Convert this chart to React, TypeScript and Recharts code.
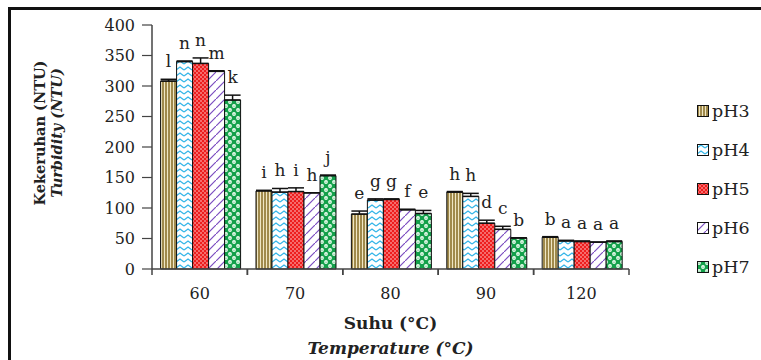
import { BarChart, Bar, XAxis, YAxis, Legend, LabelList, ErrorBar } from "recharts";

const temps = ["60", "70", "80", "90", "120"];
const yTicks = [0, 50, 100, 150, 200, 250, 300, 350, 400];

const pH3 = [308, 128, 90, 126, 52];
const pH4 = [340, 126, 113, 119, 46];
const pH5 = [337, 127, 114, 75, 45];
const pH6 = [324, 125, 97, 65, 44];
const pH7 = [277, 153, 91, 51, 45];

const pH3Err = [3, 1, 5, 1, 1];
const pH4Err = [1, 6, 2, 5, 1];
const pH5Err = [9, 6, 1, 5, 1];
const pH6Err = [1, 0, 1, 5, 0];
const pH7Err = [8, 1, 5, 0, 1];

const pH3Sig = ["l", "i", "e", "h", "b"];
const pH4Sig = ["n", "h", "g", "h", "a"];
const pH5Sig = ["n", "i", "g", "d", "a"];
const pH6Sig = ["m", "h", "f", "c", "a"];
const pH7Sig = ["k", "j", "e", "b", "a"];

const series = [
  { key: "pH3", values: pH3, errs: pH3Err, sig: pH3Sig, fill: "url(#pat3)" },
  { key: "pH4", values: pH4, errs: pH4Err, sig: pH4Sig, fill: "url(#pat4)" },
  { key: "pH5", values: pH5, errs: pH5Err, sig: pH5Sig, fill: "url(#pat5)" },
  { key: "pH6", values: pH6, errs: pH6Err, sig: pH6Sig, fill: "url(#pat6)" },
  { key: "pH7", values: pH7, errs: pH7Err, sig: pH7Sig, fill: "url(#pat7)" },
];

const data = temps.map((t, i) => {
  const row: any = { temp: t };
  series.forEach((s) => {
    row[s.key] = s.values[i];
    row[s.key + "Err"] = [0, s.errs[i]];
  });
  return row;
});

const FONT = "'DejaVu Serif', 'Liberation Serif', serif";
const INK = "#222";

const sigLabel = (letters: string[], errs: number[]) => (props: any) => {
  const { x, y, width, height, value, index } = props;
  const px = value ? height / value : 0;
  const top = y - errs[index] * px;
  return (
    <text x={x + width / 2} y={top - 12} textAnchor="middle" fontFamily={FONT} fontSize={17} fill={INK}>
      {letters[index]}
    </text>
  );
};

const TempTick = (props: any) => {
  const { x, y, payload, width } = props;
  const half = width / temps.length / 2;
  return (
    <g>
      <line x1={x - half} y1={y} x2={x - half} y2={y + 6} stroke="#444" strokeWidth={1.5} />
      <line x1={x + half} y1={y} x2={x + half} y2={y + 6} stroke="#444" strokeWidth={1.5} />
      <text x={x} y={y + 30} textAnchor="middle" fontFamily={FONT} fontSize={16} fill={INK}>
        {payload.value}
      </text>
    </g>
  );
};

const XTitle = (props: any) => {
  const { viewBox } = props;
  const cx = viewBox.x + viewBox.width / 2;
  return (
    <g fontFamily={FONT} fontSize={17} fontWeight="bold" fill={INK}>
      <text x={cx} y={viewBox.y + 60} textAnchor="middle">Suhu (°C)</text>
      <text x={cx} y={viewBox.y + 85} textAnchor="middle" fontStyle="italic">Temperature (°C)</text>
    </g>
  );
};

const YTitle = (props: any) => {
  const { viewBox } = props;
  const cy = viewBox.y + viewBox.height / 2 - 14;
  return (
    <g fontFamily={FONT} fontSize={14.5} fontWeight="bold" fill={INK}>
      <text x={45} y={cy} textAnchor="middle" transform={`rotate(-90 45 ${cy})`}>Kekeruhan (NTU)</text>
      <text x={62} y={cy} textAnchor="middle" fontStyle="italic" transform={`rotate(-90 62 ${cy})`}>Turbidity (NTU)</text>
    </g>
  );
};

const LegendBox = () => (
  <div style={{ fontFamily: FONT, fontSize: 17.5, color: INK }}>
    {series.map((s) => (
      <div key={s.key} style={{ display: "flex", alignItems: "center", height: 39 }}>
        <svg width={12} height={12} style={{ marginRight: 3 }}>
          <rect x={0.5} y={0.5} width={11} height={11} fill={s.fill} stroke="#111" strokeWidth={1} />
        </svg>
        <span>{s.key}</span>
      </div>
    ))}
  </div>
);

export default function App() {
  return (
    <div style={{ position: "absolute", left: 0, top: 0, width: 761, height: 360, background: "#fff", overflow: "hidden" }}>
      <div
        style={{
          position: "absolute",
          left: 8,
          top: 7,
          width: 800,
          height: 400,
          borderLeft: "3px solid #111",
          borderTop: "3px solid #111",
        }}
      />
      <BarChart
        width={761}
        height={360}
        data={data}
        margin={{ top: 25, right: 132, bottom: 61, left: 92 }}
        barCategoryGap="9%"
        barGap={0}
        style={{ position: "absolute", left: 0, top: 0 }}
      >
        <defs>
          <pattern id="pat3" width={3} height={4} patternUnits="userSpaceOnUse">
            <rect width={3} height={4} fill="#a08a4c" />
            <rect x={2} width={1} height={4} fill="#efe6c4" />
          </pattern>
          <pattern id="pat4" width={8} height={6} patternUnits="userSpaceOnUse">
            <rect width={8} height={6} fill="#fff" />
            <polyline points="0,4 4,1 8,4" fill="none" stroke="#33b5e8" strokeWidth={1.3} />
          </pattern>
          <pattern id="pat5" width={4} height={4} patternUnits="userSpaceOnUse">
            <rect width={4} height={4} fill="#ee1d1d" />
            <circle cx={1} cy={1} r={0.8} fill="#ffd0d0" />
            <circle cx={3} cy={3} r={0.8} fill="#ffd0d0" />
          </pattern>
          <pattern id="pat6" width={9} height={9} patternUnits="userSpaceOnUse">
            <rect width={9} height={9} fill="#fff" />
            <line x1={0} y1={9} x2={9} y2={0} stroke="#7b4cc0" strokeWidth={1.2} />
          </pattern>
          <pattern id="pat7" width={8} height={8} patternUnits="userSpaceOnUse">
            <rect width={8} height={8} fill="#13a04a" />
            <circle cx={2} cy={2} r={1.9} fill="#f2fff4" />
            <circle cx={6} cy={6} r={1.9} fill="#f2fff4" />
            <rect x={1.2} y={1.8} width={1.6} height={0.6} fill="#13a04a" />
            <rect x={5.2} y={5.8} width={1.6} height={0.6} fill="#13a04a" />
          </pattern>
        </defs>
        <XAxis
          dataKey="temp"
          tickLine={false}
          tickSize={0}
          tickMargin={0}
          tick={<TempTick />}
          axisLine={{ stroke: "#444", strokeWidth: 1.5 }}
          interval={0}
          label={<XTitle />}
        />
        <YAxis
          domain={[0, 400]}
          ticks={yTicks}
          width={60}
          tickSize={10}
          tickMargin={7}
          tickLine={{ stroke: "#444", strokeWidth: 1.2 }}
          axisLine={{ stroke: "#444", strokeWidth: 1.5 }}
          tick={{ fontFamily: FONT, fontSize: 16, fill: INK }}
          label={<YTitle />}
        />
        <Legend
          layout="vertical"
          align="center"
          verticalAlign="middle"
          content={<LegendBox />}
          wrapperStyle={{ position: "absolute", left: 697, top: 91, width: 70 }}
        />
        {series.map((s) => (
          <Bar key={s.key} dataKey={s.key} fill={s.fill} stroke="#111" strokeWidth={1} isAnimationActive={false}>
            <ErrorBar dataKey={s.key + "Err"} width={8} stroke="#111" strokeWidth={1.5} direction="y" />
            <LabelList dataKey={s.key} content={sigLabel(s.sig, s.errs)} />
          </Bar>
        ))}
      </BarChart>
    </div>
  );
}
